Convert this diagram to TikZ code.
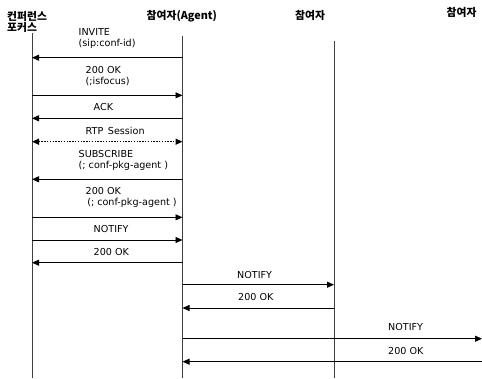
\documentclass[tikz,border=0pt]{standalone}
\usepackage{fontspec}
\setmainfont{DejaVu Sans}
\newfontfamily\krfont{Noto Sans CJK KR}
\usetikzlibrary{arrows.meta}
\tikzset{
  lifeline/.style={draw=black!75, line width=0.9bp},
  msg/.style={draw=black, line width=0.9bp, -{Triangle[length=7bp,width=6bp]}},
  rtp/.style={draw=black, line width=1.3bp, dash pattern=on 1.4bp off 1.4bp, {Triangle[length=7bp,width=6bp]}-{Triangle[length=7bp,width=6bp]}},
  lbl/.style={anchor=base west, inner sep=0pt, font=\fontsize{9.6bp}{11bp}\selectfont},
  hdr/.style={anchor=west, inner sep=0pt, font=\krfont\bfseries\fontsize{10.8bp}{12bp}\selectfont}
}
\begin{document}
\begin{tikzpicture}[x=1bp,y=-1bp]
\useasboundingbox (0,0) rectangle (482,378);
% headers
\node[hdr] (h1a) at (7,16.7) {컨퍼런스};
\node[hdr] (h1b) at (7,27.5) {포커스};
\node[hdr] (h2) at (146.5,16.7) {참여자(Agent)};
\node[hdr] (h3) at (295,15.5) {참여자};
\node[hdr] (h4) at (446.5,12) {참여자};
% lifelines
\coordinate (A) at (32,33);
\coordinate (Ab) at (32,378);
\coordinate (B) at (182.5,36);
\coordinate (Bb) at (182.5,378);
\coordinate (C) at (334,40.5);
\coordinate (Cb) at (334,378);
\coordinate (D) at (482,0);
\draw[lifeline] (A) -- (Ab);
\draw[lifeline] (B) -- (Bb);
\draw[lifeline] (C) -- (Cb);
% INVITE
\node[lbl] (t1a) at (78.5,35) {INVITE};
\node[lbl] (t1b) at (78.5,46.5) {(sip:conf-id)};
\draw[msg] (B |- 0,57.7) -- (A |- 0,57.7);
% 200 OK
\node[lbl] (t2a) at (85.5,73.3) {200 OK};
\node[lbl] (t2b) at (85.5,84.5) {(;isfocus)};
\draw[msg] (A |- 0,95.3) -- (B |- 0,95.3);
% ACK
\node[lbl] (t3) at (93.5,110) {ACK};
\draw[msg] (B |- 0,118.3) -- (A |- 0,118.3);
% RTP
\node[lbl] (t4) at (85.5,134) {RTP\, Session};
\draw[rtp] (A |- 0,141.7) -- (B |- 0,141.7);
% SUBSCRIBE
\node[lbl] (t5a) at (78.5,157.3) {SUBSCRIBE};
\node[lbl] (t5b) at (78.5,168) {(; conf-pkg-agent )};
\draw[msg] (B |- 0,179.3) -- (A |- 0,179.3);
% 200 OK
\node[lbl] (t6a) at (85.5,194.7) {200 OK};
\node[lbl] (t6b) at (85.5,205.5) {\,(; conf-pkg-agent )};
\draw[msg] (A |- 0,217.3) -- (B |- 0,217.3);
% NOTIFY
\node[lbl] (t7) at (93.5,232.7) {NOTIFY};
\draw[msg] (A |- 0,240) -- (B |- 0,240);
% 200 OK
\node[lbl] (t8) at (93.5,255.3) {200 OK};
\draw[msg] (B |- 0,262.7) -- (A |- 0,262.7);
% NOTIFY to C
\node[lbl] (t9) at (237,278) {NOTIFY};
\draw[msg] (B |- 0,284.7) -- (C |- 0,284.7);
\node[lbl] (t10) at (238,300.7) {200 OK};
\draw[msg] (C |- 0,308) -- (B |- 0,308);
% NOTIFY to D
\node[lbl] (t11) at (388,330.7) {NOTIFY};
\draw[msg] (B |- 0,338.7) -- (D |- 0,338.7);
\node[lbl] (t12) at (388,354) {200 OK};
\draw[msg] (D |- 0,361.7) -- (B |- 0,361.7);
\end{tikzpicture}
\end{document}
